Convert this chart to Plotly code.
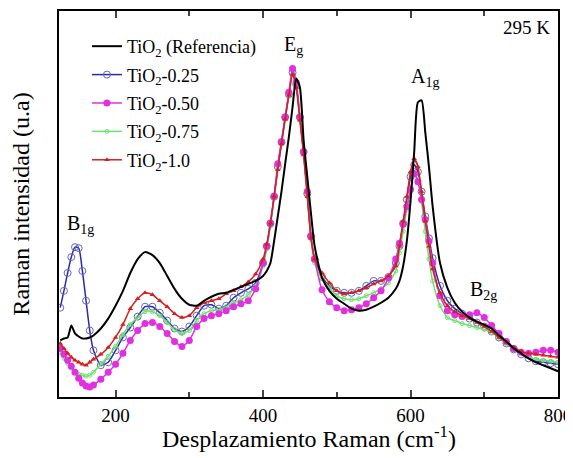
import plotly.graph_objects as go

# Raman shift (cm-1)
wavenumber = [125,130,135,140,145,150,155,160,165,170,
              180,190,200,210,220,230,240,250,260,270,
              280,290,300,310,320,330,340,350,360,370,
              380,390,400,405,410,415,420,425,430,435,
              440,445,450,455,460,465,470,480,490,500,
              510,520,530,540,550,560,570,580,585,590,
              595,600,605,610,615,620,625,630,640,650,
              660,670,680,690,700,710,720,730,740,750,
              760,770,780,790,800]

# Intensities (arbitrary units)
ref = [60,62,63,75,67,64,62,62,63,65,
       72,82,95,110,128,142,149,146,138,125,
       112,102,96,95,100,104,107,108,111,114,
       117,120,125,130,138,160,185,210,238,265,
       295,324,315,262,225,188,155,123,110,102,
       97,92,90,91,94,98,103,112,120,135,
       160,200,250,300,302,270,235,195,138,113,
       98,89,83,79,76,72,65,59,52,47,
       42,38,35,32,29]

s025 = [93,110,128,144,154,153,130,100,70,50,
        35,38,50,63,73,84,94,94,88,80,
        72,69,74,85,95,96,92,95,103,108,
        112,118,138,155,178,205,235,260,285,308,
        330,318,285,250,208,165,142,124,115,110,
        108,108,110,115,120,120,124,138,155,178,
        202,225,237,230,210,185,163,143,115,100,
        92,87,82,78,74,69,63,57,51,46,
        42,39,38,37,36]

s050 = [52,46,40,34,28,22,17,14,13,15,
        21,28,36,47,60,70,77,78,74,67,
        59,54,60,74,82,85,87,90,94,97,
        100,112,138,155,178,205,238,260,285,310,
        334,320,285,250,210,165,142,111,99,93,
        90,91,93,97,103,110,123,142,158,177,
        195,212,228,220,202,182,160,138,105,90,
        86,84,86,88,83,75,67,59,52,48,
        47,48,50,50,48]

s075 = [48,42,37,32,29,26,25,24,25,28,
        36,44,54,66,76,83,89,89,85,78,
        71,67,70,80,87,90,91,94,98,101,
        106,115,135,152,175,203,233,258,283,307,
        328,315,282,248,205,162,138,122,113,105,
        102,101,102,105,108,112,118,130,148,170,
        192,212,227,222,200,170,142,120,95,83,
        80,77,75,73,71,68,63,57,52,48,
        44,41,40,39,38]

s100 = [57,52,47,43,40,38,36,35,38,41,
        46,53,63,76,92,102,108,106,100,94,
        87,83,85,93,98,100,102,107,110,114,
        119,127,142,157,178,205,232,258,283,307,
        328,315,282,247,205,163,142,128,118,110,
        107,108,110,113,117,120,125,135,155,180,
        205,230,243,235,210,180,155,132,108,95,
        89,85,82,78,74,69,63,58,53,49,
        47,46,45,44,43]

x_ticks = [200, 400, 600, 800]
x_minor = [300, 500, 700]

SERIF = "Liberation Serif, Times New Roman, serif"

fig = go.Figure()

fig.add_trace(go.Scatter(
    x=wavenumber, y=s025, name="TiO<sub>2</sub>-0.25", mode="lines+markers",
    line=dict(color="#2b2ba8", width=1.5, shape="spline", smoothing=0.6),
    marker=dict(symbol="circle-open", size=7, color="#6666bb", line=dict(width=1)),
    legendrank=2, legendgroup="g2"))
fig.add_trace(go.Scatter(
    x=wavenumber, y=s075, name="TiO<sub>2</sub>-0.75", mode="lines+markers",
    line=dict(color="#6fe06f", width=1.5, shape="spline", smoothing=0.6),
    marker=dict(symbol="circle-open", size=4, color="#6fe06f"),
    legendrank=4, legendgroup="g4"))
fig.add_trace(go.Scatter(
    x=wavenumber, y=s050, name="TiO<sub>2</sub>-0.50", mode="lines+markers",
    line=dict(color="#e030e0", width=1.5, shape="spline", smoothing=0.6),
    marker=dict(symbol="circle", size=7, color="#e030e0"),
    legendrank=3, legendgroup="g3"))
fig.add_trace(go.Scatter(
    x=wavenumber, y=s100, name="TiO<sub>2</sub>-1.0", mode="lines+markers",
    line=dict(color="#d42020", width=1.5, shape="spline", smoothing=0.6),
    marker=dict(symbol="triangle-up", size=5, color="#d42020"),
    legendrank=5, legendgroup="g5"))
fig.add_trace(go.Scatter(
    x=wavenumber, y=ref, name="TiO<sub>2</sub> (Referencia)", mode="lines",
    line=dict(color="black", width=2, shape="spline", smoothing=0.6),
    legendrank=1, legendgroup="g1"))

annotations = [
    dict(x=152, y=177, text="B<sub>1g</sub>"),
    dict(x=441, y=357, text="E<sub>g</sub>"),
    dict(x=619, y=325, text="A<sub>1g</sub>"),
    dict(x=699, y=110, text="B<sub>2g</sub>"),
]
for a in annotations:
    a.update(xref="x", yref="y", showarrow=False, font=dict(family=SERIF, size=20, color="black"))
annotations.append(dict(x=0.936, y=0.956, xref="paper", yref="paper", xanchor="center", yanchor="middle",
                        text="295 K", showarrow=False,
                        font=dict(family=SERIF, size=19, color="black")))
annotations.append(dict(x=0.5, y=-0.103, xref="paper", yref="paper", xanchor="center", yanchor="middle",
                        text="Desplazamiento Raman (cm<sup>-1</sup>)", showarrow=False,
                        font=dict(family=SERIF, size=24, color="black")))

fig.update_layout(
    width=565, height=450,
    margin=dict(l=51, r=15, t=1, b=61),
    paper_bgcolor="white", plot_bgcolor="white",
    font=dict(family=SERIF, size=18, color="black"),
    showlegend=True,
    legend=dict(x=0.056, y=0.956, xanchor="left", yanchor="top", bgcolor="rgba(0,0,0,0)",
                font=dict(family=SERIF, size=18, color="black"),
                tracegroupgap=2),
    annotations=annotations,
    xaxis=dict(range=[123.3, 800], tickvals=x_ticks, ticks="inside", ticklen=7, tickwidth=1.5,
               showline=True, linecolor="black", linewidth=1.5, mirror="ticks", showgrid=False,
               zeroline=False, tickfont=dict(family=SERIF, size=19),
               minor=dict(tickvals=x_minor, ticks="inside", ticklen=5, tickwidth=1.5)),
    yaxis=dict(range=[3, 392], showticklabels=False, ticks="", showline=True, linecolor="black",
               linewidth=1.5, mirror=True, showgrid=False, zeroline=False,
               title=dict(text="Raman intensidad (u.a)", font=dict(family=SERIF, size=24), standoff=22)),
)

fig.write_html("out.html")
